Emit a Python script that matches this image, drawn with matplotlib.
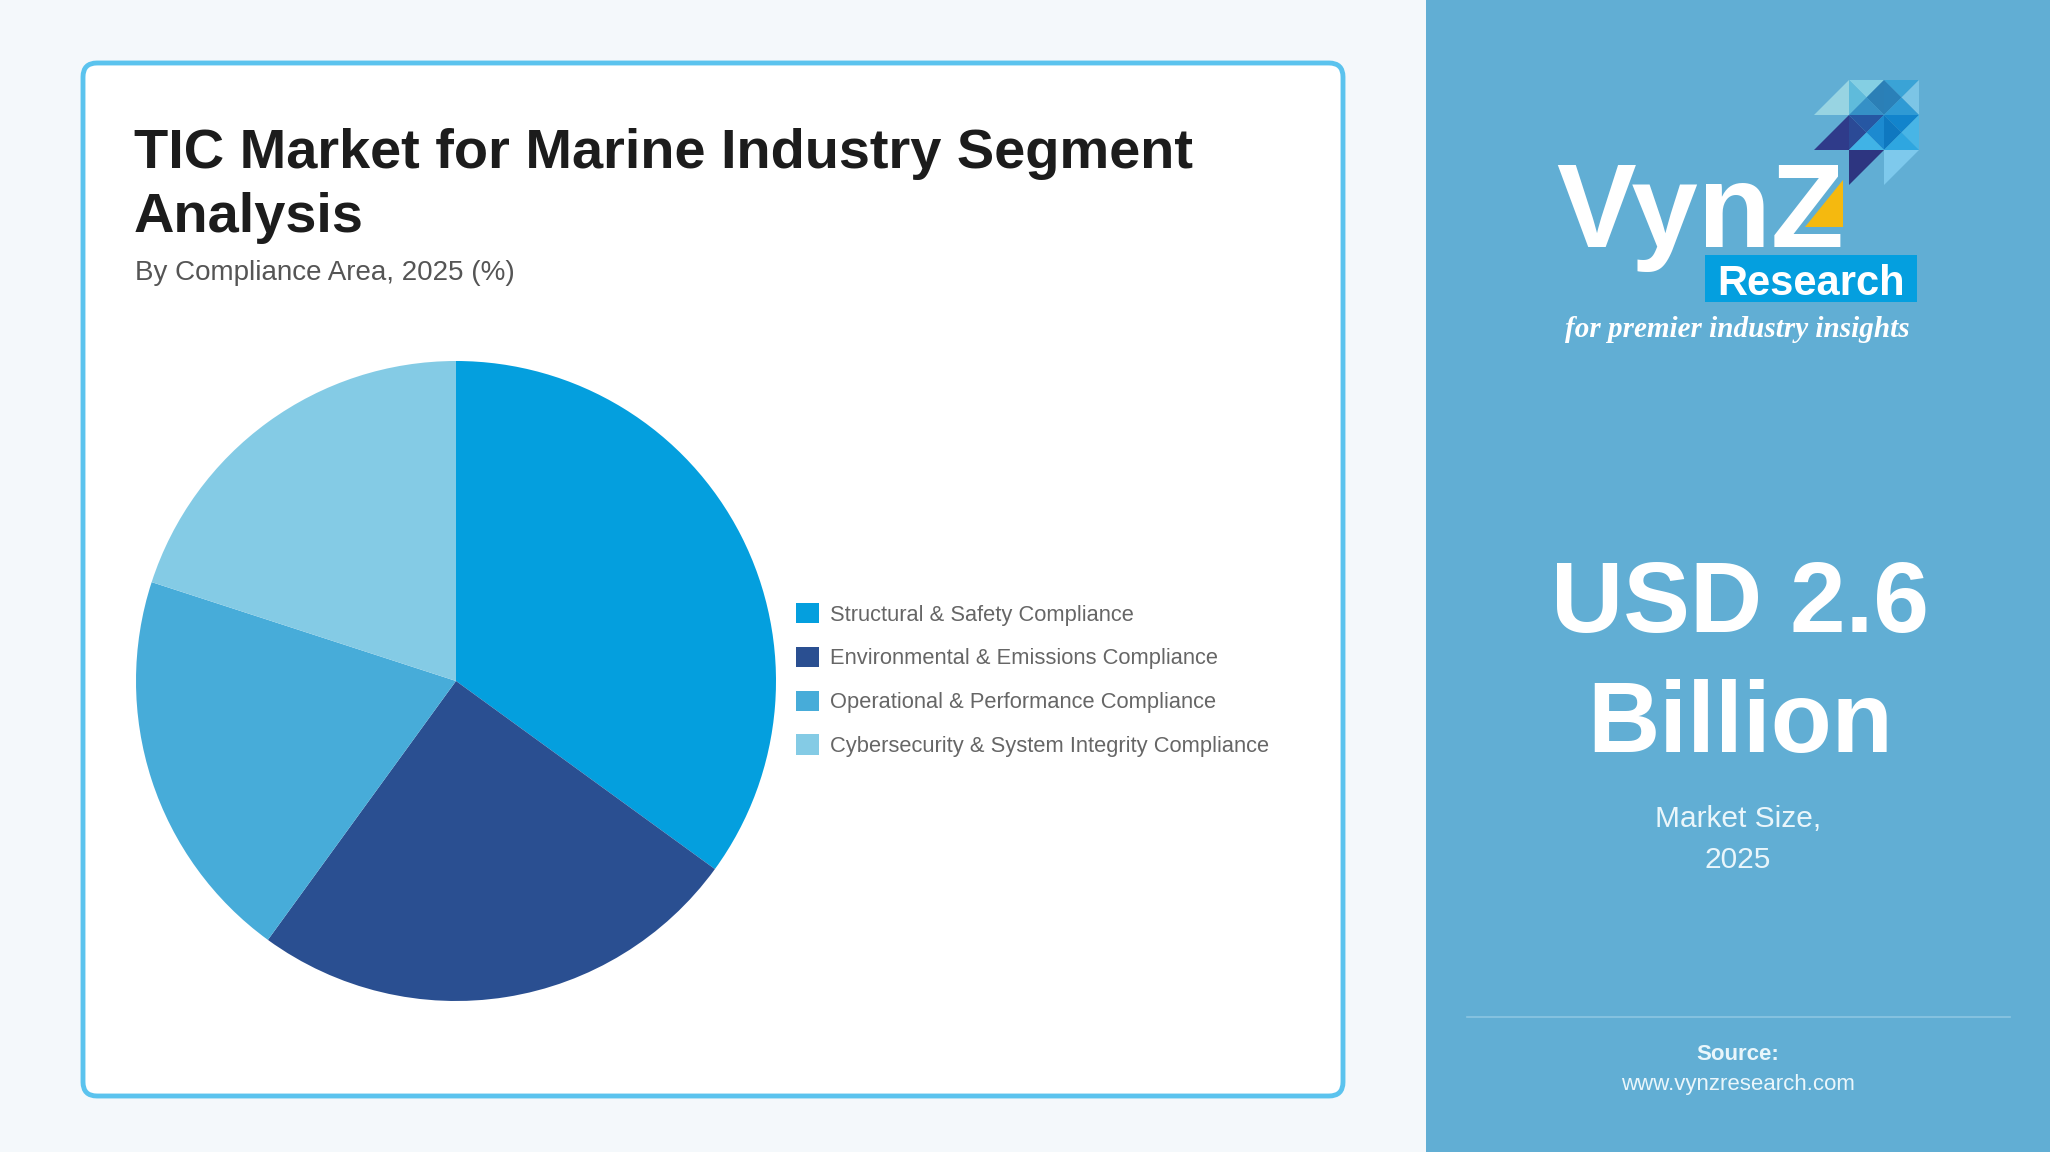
import matplotlib.pyplot as plt
from matplotlib.patches import FancyBboxPatch, Rectangle, Polygon

plt.rcParams['font.family'] = ['Liberation Sans', 'DejaVu Sans']

# data
segments = ["Structural & Safety Compliance", "Environmental & Emissions Compliance",
            "Operational & Performance Compliance", "Cybersecurity & System Integrity Compliance"]
shares = [35, 25, 20, 20]
colors = ["#049fde", "#2a4f91", "#47acd9", "#84cbe5"]

title_lines = ["TIC Market for Marine Industry Segment", "Analysis"]
subtitle = "By Compliance Area, 2025 (%)"
market_value = ["USD 2.6", "Billion"]
market_label = ["Market Size,", "2025"]

W, H = 2050, 1152
fig = plt.figure(figsize=(W / 100, H / 100), dpi=100)
fig.patch.set_facecolor("#f4f8fb")

# background canvas in pixel coords (y down)
bg = fig.add_axes([0, 0, 1, 1])
bg.set_xlim(0, W)
bg.set_ylim(H, 0)
bg.axis("off")

# card
bg.add_patch(FancyBboxPatch((83, 63), 1260, 1033, boxstyle="round,pad=0,rounding_size=14",
                            facecolor="white", edgecolor="#5bc3ee", linewidth=3.5))
bg.text(134, 168, title_lines[0], fontsize=40.3, fontweight="bold", color="#1c1c1c", va="baseline")
bg.text(134, 232, title_lines[1], fontsize=40.3, fontweight="bold", color="#1c1c1c", va="baseline")
bg.text(135, 280, subtitle, fontsize=20, color="#555555", va="baseline")

# right panel
bg.add_patch(Rectangle((1426, 0), W - 1426, H, facecolor="#61aed4", edgecolor="none"))

# logo mosaic (approximate)
s = 35
x0, y0 = 1814, 80


def tri(c, r, part):
    x, y = x0 + c * s, y0 + r * s
    m = (x + s / 2, y + s / 2)
    return {
        "top": [(x, y), (x + s, y), m],
        "right": [(x + s, y), (x + s, y + s), m],
        "bottom": [(x, y + s), (x + s, y + s), m],
        "left": [(x, y), (x, y + s), m],
        "lr": [(x, y + s), (x + s, y), (x + s, y + s)],
        "ul": [(x, y), (x + s, y), (x, y + s)],
    }[part]


mosaic = [
    (0, 0, "lr", "#98d4e2"),
    (1, 0, "top", "#84cfe3"), (1, 0, "left", "#5fbbdb"), (1, 0, "right", "#2b7fb6"), (1, 0, "bottom", "#3590c6"),
    (2, 0, "top", "#3aa3d6"), (2, 0, "left", "#2a80b8"), (2, 0, "right", "#7cc5e6"), (2, 0, "bottom", "#2f9ad4"),
    (0, 1, "lr", "#2f3b8a"),
    (1, 1, "top", "#2657a3"), (1, 1, "left", "#2b4a96"), (1, 1, "right", "#1c8ad0"), (1, 1, "bottom", "#40b3e6"),
    (2, 1, "top", "#1284cc"), (2, 1, "left", "#0f78c0"), (2, 1, "right", "#48b5e6"), (2, 1, "bottom", "#2ea6e0"),
    (1, 2, "ul", "#2d3580"),
    (2, 2, "ul", "#7ec9ec"),
]
for c, r, part, col in mosaic:
    bg.add_patch(Polygon(tri(c, r, part), closed=True, facecolor=col, edgecolor="none"))

bg.text(1556, 247, "VynZ", fontsize=86, fontweight="bold", color="white", va="baseline")
bg.add_patch(Polygon([(1805, 227), (1843, 227), (1843, 180)], closed=True,
                     facecolor="#f5b90f", edgecolor="none"))
bg.add_patch(Rectangle((1705, 255), 212, 47, facecolor="#049fdf", edgecolor="none"))
bg.text(1811, 295, "Research", fontsize=30, fontweight="bold", color="white",
        ha="center", va="baseline")
bg.text(1737, 337, "for premier industry insights", fontsize=21, style="italic",
        fontweight="bold", family="Liberation Serif", color="white", ha="center", va="baseline")

# market size
bg.text(1740, 632, market_value[0], fontsize=72, fontweight="bold", color="white",
        ha="center", va="baseline")
bg.text(1740, 752, market_value[1], fontsize=72, fontweight="bold", color="white",
        ha="center", va="baseline")
bg.text(1738, 827, market_label[0], fontsize=21.5, color="#eaf6fb", ha="center", va="baseline")
bg.text(1738, 868, market_label[1], fontsize=21.5, color="#eaf6fb", ha="center", va="baseline")

bg.plot([1467, 2010], [1017, 1017], color="#8cc6e2", linewidth=1.2)
bg.text(1738, 1060, "Source:", fontsize=16, fontweight="bold", color="#eaf6fb",
        ha="center", va="baseline")
bg.text(1738, 1090, "www.vynzresearch.com", fontsize=16, color="#eaf6fb",
        ha="center", va="baseline")

# pie
cx, cy, r = 456, 681, 320
ax = fig.add_axes([(cx - r) / W, (H - cy - r) / H, 2 * r / W, 2 * r / H])
wedges, _ = ax.pie(shares, colors=colors, startangle=90, counterclock=False, radius=1,
                   wedgeprops=dict(linewidth=0))
ax.set_xlim(-1, 1)
ax.set_ylim(-1, 1)
ax.set_aspect("equal")
ax.axis("off")

fig.legend(wedges, segments, loc="center left", bbox_to_anchor=(796 / W, 1 - 680 / H),
           frameon=False, fontsize=15.75, handlelength=1.05, handleheight=1.05,
           handletextpad=0.5, labelspacing=0.97, borderpad=0, borderaxespad=0,
           labelcolor="#666666")

fig.savefig("out.png", dpi=100, facecolor=fig.get_facecolor())
